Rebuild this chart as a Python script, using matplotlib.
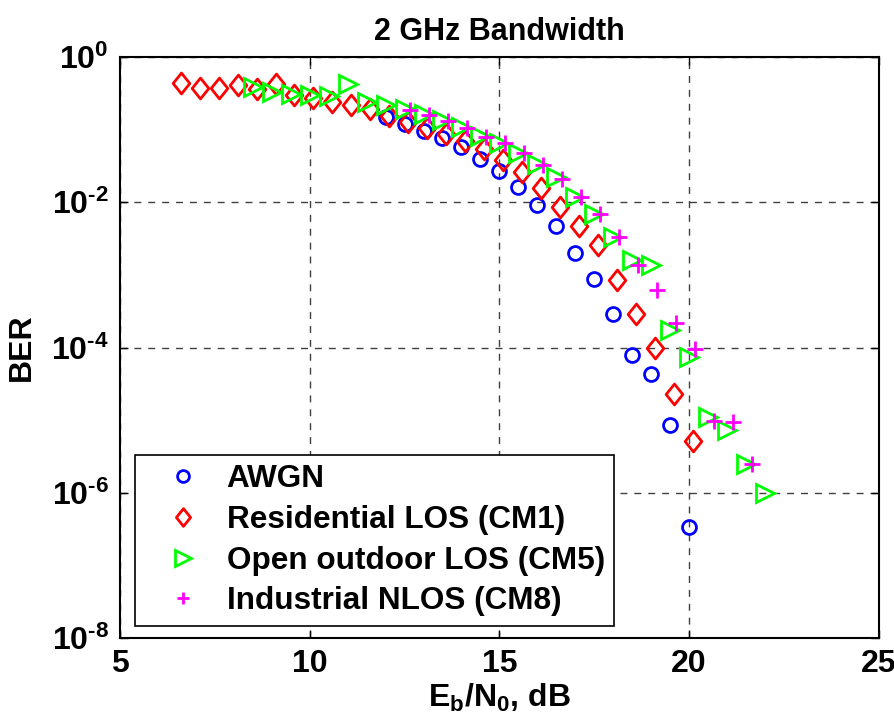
import matplotlib
matplotlib.use("Agg")
import matplotlib.pyplot as plt
from matplotlib.path import Path

# --- data ---
awgn_x = [12.0, 12.5, 13.0, 13.5, 14.0, 14.5, 15.0, 15.5, 16.0, 16.5,
          17.0, 17.5, 18.0, 18.5, 19.0, 19.5, 20.0]
awgn_ber = [0.15, 0.12, 0.097, 0.077, 0.058, 0.040, 0.027, 0.0163, 0.0093, 0.0047,
            0.0020, 8.7e-4, 2.85e-4, 8.0e-5, 4.3e-5, 8.7e-6, 3.4e-7]

cm1_x = [6.6, 7.1, 7.6, 8.1, 8.6, 9.1, 9.6, 10.1, 10.6, 11.1, 11.6, 12.1, 12.6, 13.1,
         13.6, 14.1, 14.6, 15.1, 15.6, 16.1, 16.6, 17.1, 17.6, 18.1, 18.6, 19.1, 19.6, 20.1]
cm1_ber = [0.44, 0.38, 0.38, 0.41, 0.36, 0.43, 0.30, 0.27, 0.24, 0.22, 0.19, 0.155, 0.128, 0.104,
           0.088, 0.069, 0.054, 0.038, 0.026, 0.0155, 0.0085, 0.0047, 0.0026, 8.6e-4,
           2.85e-4, 1.0e-4, 2.3e-5, 5.2e-6]

cm5_x = [8.5, 9.0, 9.5, 10.0, 10.5, 11.0, 11.5, 12.0, 12.5, 13.0, 13.5, 14.0, 14.5, 15.0,
         15.5, 16.0, 16.5, 17.0, 17.5, 18.0, 18.5, 19.0, 19.5, 20.0, 20.5, 21.0, 21.5, 22.0]
cm5_ber = [0.39, 0.33, 0.31, 0.30, 0.29, 0.42, 0.24, 0.22, 0.19, 0.165, 0.135, 0.108, 0.082, 0.065,
           0.047, 0.034, 0.022, 0.012, 0.0068, 0.0033, 0.0016, 0.00135, 1.75e-4, 7.5e-5,
           1.1e-5, 7.3e-6, 2.5e-6, 1.0e-6]

cm8_x = [12.65, 13.15, 13.65, 14.15, 14.65, 15.15, 15.65, 16.15, 16.65, 17.15, 17.65, 18.15,
         18.65, 19.15, 19.65, 20.15, 20.65, 21.15, 21.65]
cm8_ber = [0.186, 0.158, 0.132, 0.104, 0.08, 0.065, 0.047, 0.033, 0.0206, 0.012, 0.0069, 0.0033,
           0.00135, 6.2e-4, 2.2e-4, 9.6e-5, 9.6e-6, 9.3e-6, 2.5e-6]

labels = ["AWGN", "Residential LOS (CM1)", "Open outdoor LOS (CM5)", "Industrial NLOS (CM8)"]
x_ticks = [5, 10, 15, 20, 25]
y_ticks = [1e-8, 1e-6, 1e-4, 1e-2, 1e0]
y_exps = ["-8", "-6", "-4", "-2", "0"]

plt.rcParams["font.family"] = ["Liberation Sans", "DejaVu Sans"]
plt.rcParams["font.weight"] = "bold"
plt.rcParams["mathtext.fontset"] = "custom"
plt.rcParams["mathtext.rm"] = "Liberation Sans:bold"
plt.rcParams["mathtext.bf"] = "Liberation Sans:bold"
plt.rcParams["mathtext.it"] = "Liberation Sans:bold"

# MATLAB-ish diamond, a bit taller than wide
diamond = Path([(0, 1), (0.8, 0), (0, -1), (-0.8, 0), (0, 1)],
               [Path.MOVETO, Path.LINETO, Path.LINETO, Path.LINETO, Path.CLOSEPOLY])

fig = plt.figure(figsize=(8.95, 7.27), dpi=100)
ax = fig.add_axes([0.134, 0.1224, 0.848, 0.7992])

ax.semilogy(awgn_x, awgn_ber, linestyle="none", marker="o", ms=10, mfc="none",
            mec=(0, 0, 1), mew=2, label=labels[0])
ax.semilogy(cm1_x, cm1_ber, linestyle="none", marker=diamond, ms=15, mfc="none",
            mec=(1, 0, 0), mew=2, label=labels[1])
ax.semilogy(cm5_x, cm5_ber, linestyle="none", marker=">", ms=13, mfc="none",
            mec=(0, 1, 0), mew=2, label=labels[2])
ax.semilogy(cm8_x, cm8_ber, linestyle="none", marker="+", ms=11, mfc="none",
            mec=(1, 0, 1), mew=2, label=labels[3])

ax.set_xlim(5, 25)
ax.set_ylim(1e-8, 1)
ax.set_xticks(x_ticks)
ax.set_xticklabels([str(t) for t in x_ticks])
ax.set_yticks(y_ticks)
ax.set_yticklabels([r"10$^{\text{%s}}$" % e for e in y_exps])
ax.minorticks_off()
ax.tick_params(direction="in", top=True, right=True, length=6, width=1,
               labelsize=23, pad=8)
for sp in ax.spines.values():
    sp.set_linewidth(1.5)

ax.grid(True, which="major", linestyle=(0, (5, 5)), color="0.25", linewidth=1)

ax.set_title("2 GHz Bandwidth", fontsize=22, fontweight="bold", pad=12)
ax.set_xlabel(r"E$_{\text{b}}$/N$_{\text{0}}$, dB", fontsize=23, fontweight="bold",
              labelpad=2)
ax.set_ylabel("BER", fontsize=23, fontweight="bold", labelpad=10)

leg = ax.legend(loc="lower left", bbox_to_anchor=(0.02, 0.021), borderaxespad=0,
                fancybox=False, edgecolor="black", framealpha=1, fontsize=22.7,
                labelspacing=0.34, handlelength=2.45, handletextpad=0.15,
                borderpad=0.3, markerscale=0.85)
leg.get_frame().set_linewidth(1.2)

fig.savefig("out.png", dpi=100)
